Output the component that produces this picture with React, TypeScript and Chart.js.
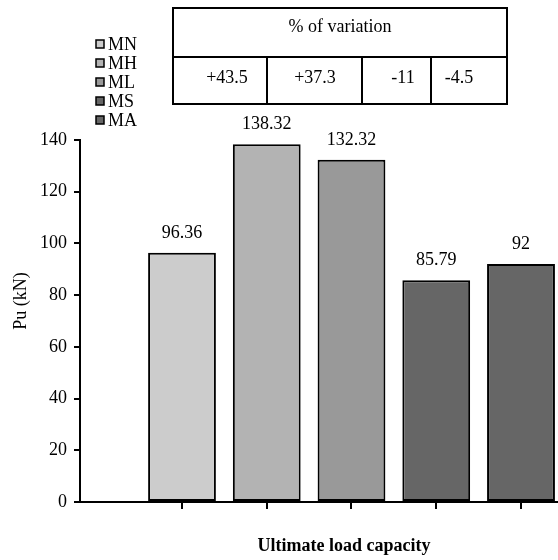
import React, { useEffect, useRef } from 'react';
import { Chart, registerables } from 'chart.js';

Chart.register(...registerables);

// ---- data ----
const seriesNames = ['MN', 'MH', 'ML', 'MS', 'MA'];
const puValues = [96.36, 138.32, 132.32, 85.79, 92];
const barColors = ['#cccccc', '#b3b3b3', '#999999', '#666666', '#666666'];
const variationHeader = '% of variation';
const variationValues = ['+43.5', '+37.3', '-11', '-4.5'];
const yTickValues = [0, 20, 40, 60, 80, 100, 120, 140];
const yTitle = 'Pu (kN)';
const xTitle = 'Ultimate load capacity';

const FONT = "'Liberation Serif', 'Times New Roman', serif";

const overlayPlugin = {
  id: 'overlay',
  afterDraw(chart: any) {
    const ctx = chart.ctx as CanvasRenderingContext2D;
    ctx.save();
    ctx.fillStyle = '#000';
    ctx.strokeStyle = '#000';
    ctx.font = `18px ${FONT}`;
    ctx.textBaseline = 'alphabetic';

    // value labels above bars
    ctx.textAlign = 'center';
    chart.data.datasets.forEach((ds: any, i: number) => {
      const el = chart.getDatasetMeta(i).data[0];
      if (!el) return;
      ctx.fillText(String(ds.data[0].y), el.x, el.y - 15);
    });

    // legend
    ctx.textAlign = 'left';
    seriesNames.forEach((name, i) => {
      const cy = 44 + i * 19;
      ctx.fillStyle = barColors[i];
      ctx.fillRect(96, cy - 4, 8, 8);
      ctx.lineWidth = 1.5;
      ctx.strokeStyle = '#000';
      ctx.strokeRect(96, cy - 4, 8, 8);
      ctx.fillStyle = '#000';
      ctx.fillText(name, 108, cy + 6);
    });

    // table
    const tl = 173, tr = 507, tt = 8, tm = 57, tb = 104;
    const cols = [tl, 267, 362, 431, tr];
    ctx.lineWidth = 2;
    ctx.strokeRect(tl, tt, tr - tl, tb - tt);
    ctx.beginPath();
    ctx.moveTo(tl, tm);
    ctx.lineTo(tr, tm);
    for (let c = 1; c < cols.length - 1; c++) {
      ctx.moveTo(cols[c], tm);
      ctx.lineTo(cols[c], tb);
    }
    ctx.stroke();
    ctx.textAlign = 'center';
    ctx.fillText(variationHeader, (tl + tr) / 2, 32);
    const textCenters = [227, 315, 403, 459];
    variationValues.forEach((v, i) => {
      ctx.fillText(v, textCenters[i], 83);
    });

    // y title
    ctx.save();
    ctx.translate(26, 301);
    ctx.rotate(-Math.PI / 2);
    ctx.textAlign = 'center';
    ctx.fillText(yTitle, 0, 0);
    ctx.restore();

    // x title
    ctx.font = `bold 18px ${FONT}`;
    ctx.textAlign = 'center';
    ctx.fillText(xTitle, 344, 551);

    ctx.restore();
  },
};

export default function App() {
  const ref = useRef<HTMLCanvasElement | null>(null);
  useEffect(() => {
    if (!ref.current) return;
    Chart.defaults.font.family = FONT;
    const chart = new Chart(ref.current, {
      type: 'bar',
      data: {
        datasets: seriesNames.map((name, i) => ({
          label: name,
          data: [{ x: i + 1, y: puValues[i] }],
          backgroundColor: barColors[i],
          borderColor: '#000',
          borderWidth: 2,
          borderSkipped: false,
          grouped: false,
          barPercentage: 0.8,
          categoryPercentage: 1,
        })) as any,
      },
      options: {
        animation: false,
        responsive: true,
        maintainAspectRatio: false,
        layout: { padding: { top: 140, left: 0, right: 0, bottom: 0 } },
        plugins: {
          legend: { display: false },
          tooltip: { enabled: false },
          title: { display: false },
        },
        scales: {
          x: {
            type: 'linear',
            offset: false,
            min: -0.2035,
            max: 5.4366,
            afterBuildTicks: (scale: any) => {
              scale.ticks = puValues.map((_, i) => ({ value: i + 1 }));
            },
            afterFit: (scale: any) => {
              scale.height = 58;
            },
            ticks: { display: false },
            grid: {
              offset: false,
              drawOnChartArea: false,
              drawTicks: true,
              tickLength: 7,
              color: '#000',
              lineWidth: 2,
            },
            border: { display: true, color: '#000', width: 2 },
          },
          y: {
            min: 0,
            max: 140,
            afterBuildTicks: (scale: any) => {
              scale.ticks = yTickValues.map((v) => ({ value: v }));
            },
            afterFit: (scale: any) => {
              scale.width = 80;
            },
            ticks: {
              color: '#000',
              font: { size: 18, family: FONT },
              padding: 7,
            },
            grid: {
              drawOnChartArea: false,
              drawTicks: true,
              tickLength: 6,
              color: '#000',
              lineWidth: 2,
            },
            border: { display: true, color: '#000', width: 2 },
          },
        },
      } as any,
      plugins: [overlayPlugin],
    });
    return () => chart.destroy();
  }, []);

  return (
    <div style={{ position: 'fixed', left: 0, top: 0, width: 558, height: 560, background: '#fff' }}>
      <canvas ref={ref} />
    </div>
  );
}
